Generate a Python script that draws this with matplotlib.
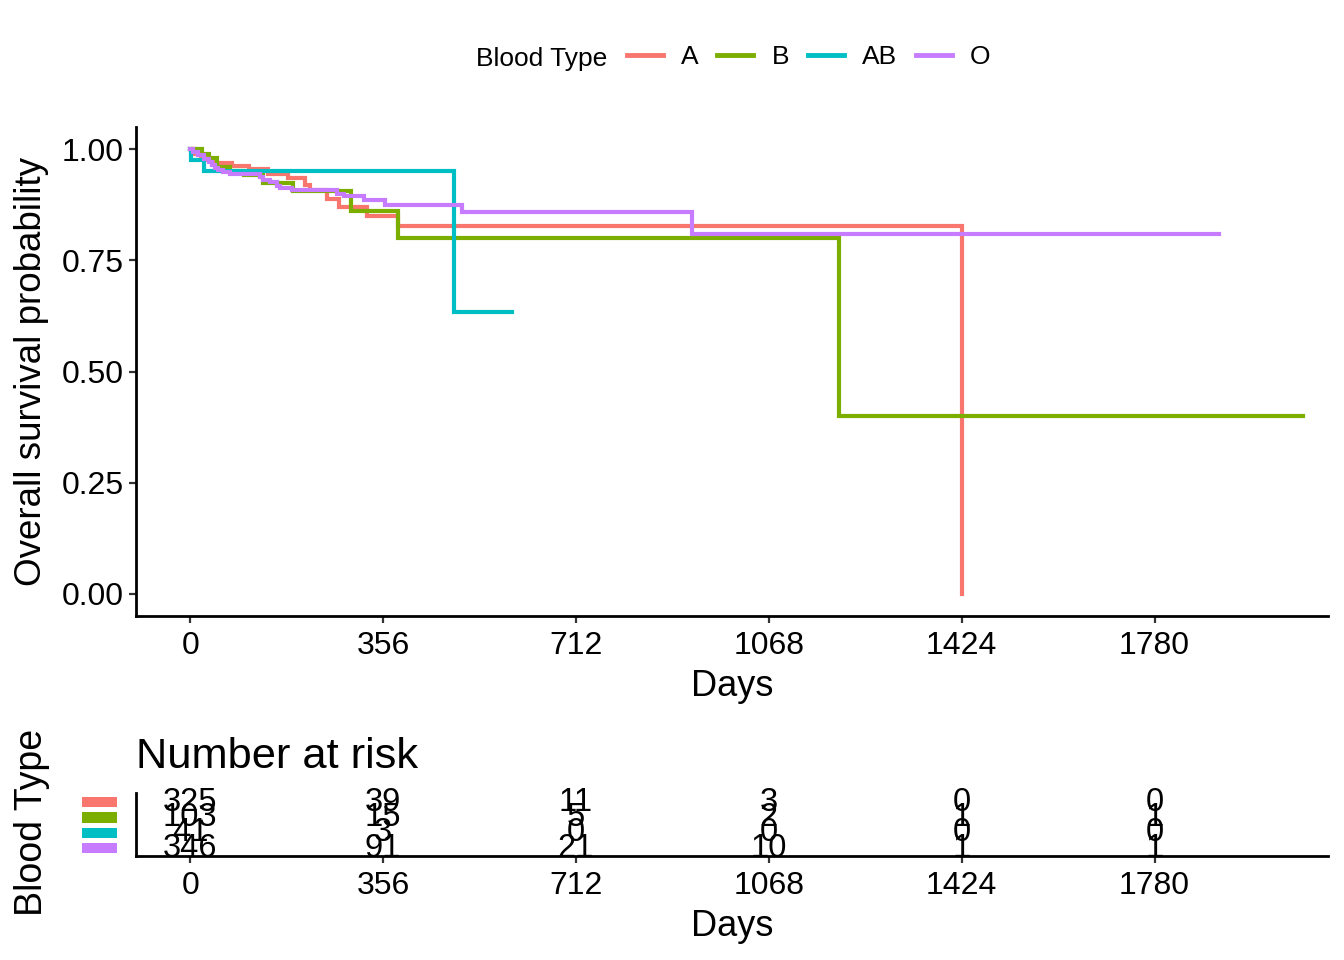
import matplotlib
matplotlib.use("Agg")
import matplotlib.pyplot as plt
from matplotlib.patches import Rectangle
from matplotlib.lines import Line2D
import matplotlib.transforms as mtransforms

plt.rcParams["font.family"] = ["Liberation Sans", "DejaVu Sans"]

# Kaplan-Meier step curves (days, survival)
GROUPS = ["A", "B", "AB", "O"]
COLORS = ["#F8766D", "#7CAE00", "#00BFC4", "#C77CFF"]

A_time = [0, 8, 20, 30, 43, 77, 108, 144, 181, 212, 222, 252, 275, 326, 384, 1424]
A_surv = [1.0, 0.990, 0.981, 0.975, 0.968, 0.963, 0.955, 0.945, 0.936, 0.919,
          0.908, 0.888, 0.870, 0.850, 0.827, 0.0]

B_time = [0, 21, 34, 49, 74, 100, 135, 190, 297, 384, 1197, 2053]
B_surv = [1.0, 0.990, 0.980, 0.961, 0.951, 0.941, 0.925, 0.906, 0.860, 0.801,
          0.401, 0.401]

AB_time = [0, 2, 25, 487, 594]
AB_surv = [1.0, 0.976, 0.951, 0.634, 0.634]

O_time = [0, 6, 15, 25, 34, 40, 46, 52, 61, 74, 129, 135, 148, 160, 166, 188,
          271, 283, 320, 360, 501, 927, 1898]
O_surv = [1.0, 0.994, 0.987, 0.977, 0.972, 0.964, 0.957, 0.953, 0.949, 0.945,
          0.938, 0.930, 0.927, 0.917, 0.912, 0.908, 0.900, 0.895, 0.886, 0.874,
          0.858, 0.809, 0.809]

CURVES = [(A_time, A_surv), (B_time, B_surv), (AB_time, AB_surv), (O_time, O_surv)]

XTICKS = [0, 356, 712, 1068, 1424, 1780]
YTICKS = [0.0, 0.25, 0.5, 0.75, 1.0]

# number at risk at each x tick
RISK = {
    "A": [325, 39, 11, 3, 0, 0],
    "B": [103, 15, 5, 2, 1, 1],
    "AB": [41, 3, 0, 0, 0, 0],
    "O": [346, 91, 21, 10, 1, 1],
}

W, H = 1344, 960
fig = plt.figure(figsize=(W / 100, H / 100), dpi=100)


def style(ax):
    for s in ("top", "right"):
        ax.spines[s].set_visible(False)
    for s in ("left", "bottom"):
        ax.spines[s].set_linewidth(2.0)
    ax.tick_params(axis="both", width=1.6, length=5, color="#333333",
                   labelsize=23, labelcolor="black")
    ax.tick_params(axis="x", pad=6)
    ax.tick_params(axis="y", pad=4)


ax = fig.add_axes([136 / W, 1 - 616 / H, 1192 / W, 489 / H])
style(ax)
for (t, s), c in zip(CURVES, COLORS):
    ax.step(t, s, where="post", color=c, lw=3.0, solid_joinstyle="miter")
ax.set_xlim(-100, 2100)
ax.set_ylim(-0.05, 1.05)
ax.set_xticks(XTICKS)
ax.set_yticks(YTICKS)
ax.set_yticklabels([f"{v:.2f}" for v in YTICKS])

fig.text(732 / W, 1 - 686 / H, "Days", fontsize=26, ha="center", va="center")
fig.text(32 / W, 1 - 371 / H, "Overall survival probability", fontsize=26.5,
         rotation=90, ha="center", va="center")

# legend on top
fig.text(607 / W, 1 - 66 / H, "Blood Type", fontsize=19, ha="right", va="baseline")
handles = [Line2D([], [], color=c, lw=3.5) for c in COLORS]
fig.legend(handles, GROUPS, loc="center left", bbox_to_anchor=(627 / W, 1 - 57 / H),
           ncol=4, frameon=False, fontsize=19, handlelength=1.36, handletextpad=0.7,
           columnspacing=0.7, borderpad=0, borderaxespad=0)

# risk table
ax2 = fig.add_axes([136 / W, 1 - 856 / H, 1192 / W, 63 / H])
style(ax2)
ax2.set_xlim(-100, 2100)
ax2.set_ylim(0.48, 4.6)
ax2.set_xticks(XTICKS)
ax2.set_yticks([])
rows = {g: 4 - i for i, g in enumerate(GROUPS)}
for g in GROUPS:
    for x, n in zip(XTICKS, RISK[g]):
        ax2.text(x, rows[g], str(n), fontsize=23.5, ha="center", va="center",
                 color="black")
trans = mtransforms.blended_transform_factory(ax2.transAxes, ax2.transData)
for g, c in zip(GROUPS, COLORS):
    ax2.add_patch(Rectangle((-54 / 1192, rows[g] - 0.33), 35 / 1192, 0.66,
                            transform=trans, color=c, clip_on=False, lw=0))

fig.text(136 / W, 1 - 768 / H, "Number at risk", fontsize=31.2, ha="left",
         va="baseline")
fig.text(732 / W, 1 - 926 / H, "Days", fontsize=26, ha="center", va="center")
fig.text(32 / W, 1 - 822 / H, "Blood Type", fontsize=27, rotation=90,
         ha="center", va="center")

fig.savefig("out.png", dpi=100)
